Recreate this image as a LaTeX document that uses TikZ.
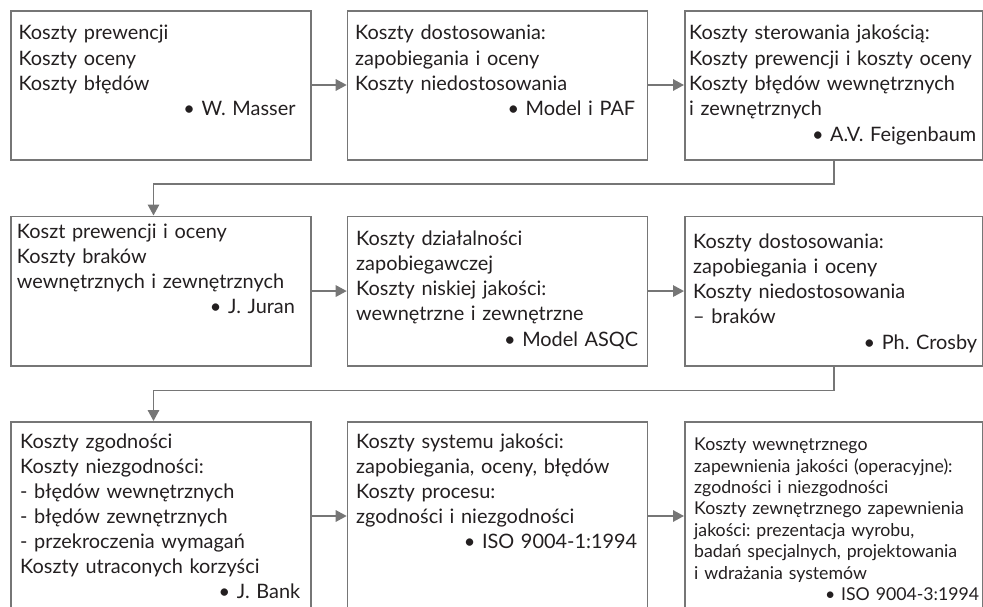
\documentclass[tikz,border=0pt]{standalone}
\usepackage{fontspec}
\setmainfont{Lato}
\usetikzlibrary{arrows.meta,positioning,calc}
\definecolor{ramka}{RGB}{118,118,118}
\definecolor{tekst}{RGB}{35,31,32}
\newcommand{\autor}[1]{\\\hspace*{0pt plus 1filll}\textbullet~#1}
\frenchspacing

\begin{document}
\begin{tikzpicture}[
  x=1pt, y=-1pt,
  box/.style={draw=ramka, line width=1.6pt, minimum width=300pt,
              minimum height=149.5pt, inner sep=0pt, anchor=north west},
  txt/.style={anchor=base west, inner sep=0pt, text width=280pt,
              text=tekst, font=\fontsize{19.9}{25.3}\selectfont},
  arr/.style={draw=ramka, line width=1.6pt,
              -{Triangle[length=11pt,width=11.5pt]}},
  >=Stealth
]
\clip (0,0) rectangle (983,607);

% boxes, row by row
\node[box] (k1) at (10,10) {};
\node[box] (k2) at (346.7,10) {};
\node[box, minimum width=298pt] (k3) at (684,10) {};
\node[box] (k4) at (10,215.5) {};
\node[box] (k5) at (346.7,215.5) {};
\node[box, minimum width=298pt] (k6) at (684,215.5) {};
\node[box, minimum height=190pt] (k7) at (10,421) {};
\node[box, minimum height=190pt] (k8) at (346.7,421) {};
\node[box, minimum width=298pt, minimum height=190pt] (k9) at (684,421) {};

% texts
\node[txt, text width=277pt] (t1) at (18.3,40)
  {Koszty prewencji\\Koszty oceny\\Koszty błędów\autor{W. Masser}};
\node[txt] (t2) at (355,40)
  {Koszty dostosowania:\\zapobiegania i oceny\\Koszty niedostosowania\autor{Model i PAF}};
\node[txt, text width=287pt] (t3) at (689,40)
  {Koszty sterowania jakością:\\Koszty prewencji i koszty oceny\\Koszty błędów wewnętrznych\\i zewnętrznych\autor{A.V. Feigenbaum}};
\node[txt, text width=278pt] (t4) at (16.7,238)
  {Koszt prewencji i oceny\\Koszty braków\\wewnętrznych i zewnętrznych\autor{J. Juran}};
\node[txt, text width=282pt] (t5) at (356,245)
  {Koszty działalności\\zapobiegawczej\\Koszty niskiej jakości:\\wewnętrzne i zewnętrzne\autor{Model ASQC}};
\node[txt, text width=284pt] (t6) at (693,248)
  {Koszty dostosowania:\\zapobiegania i oceny\\Koszty niedostosowania\\– braków\autor{Ph. Crosby}};
\node[txt, font=\fontsize{19.9}{25}\selectfont] (t7) at (20,448.3)
  {Koszty zgodności\\Koszty niezgodności:\\- błędów wewnętrznych\\- błędów zewnętrznych\\- przekroczenia wymagań\\Koszty utraconych korzyści\autor{J. Bank}};
\node[txt, text width=281pt, font=\fontsize{19.9}{25}\selectfont] (t8) at (356,448.3)
  {Koszty systemu jakości:\\zapobiegania, oceny, błędów\\Koszty procesu:\\zgodności i niezgodności\autor{ISO 9004-1:1994}};
\node[txt, text width=285pt, font=\fontsize{17.7}{21.4}\selectfont] (t9) at (694,450.7)
  {Koszty wewnętrznego\\zapewnienia jakości (operacyjne):\\zgodności i niezgodności\\Koszty zewnętrznego zapewnienia\\jakości: prezentacja wyrobu,\\badań specjalnych, projektowania\\i wdrażania systemów\autor{ISO 9004-3:1994}};

% arrows in rows
\draw[arr] (k1.east |- 0,85) -- (k2.west |- 0,85);
\draw[arr] (k2.east |- 0,85) -- (k3.west |- 0,85);
\draw[arr] (k4) -- (k5);
\draw[arr] (k5) -- (k6);
\draw[arr] (k7.east |- 0,516) -- (k8.west |- 0,516);
\draw[arr] (k8.east |- 0,516) -- (k9.west |- 0,516);

% turns to next row
\coordinate (z1) at ([xshift=-7.3pt]k4.north);
\coordinate (z2) at ([xshift=-7.3pt]k7.north);
\draw[arr] (k3.south) -- ++(0,23) -| (z1);
\draw[arr] (k6.south) -- ++(0,24) -| (z2);

\end{tikzpicture}
\end{document}
